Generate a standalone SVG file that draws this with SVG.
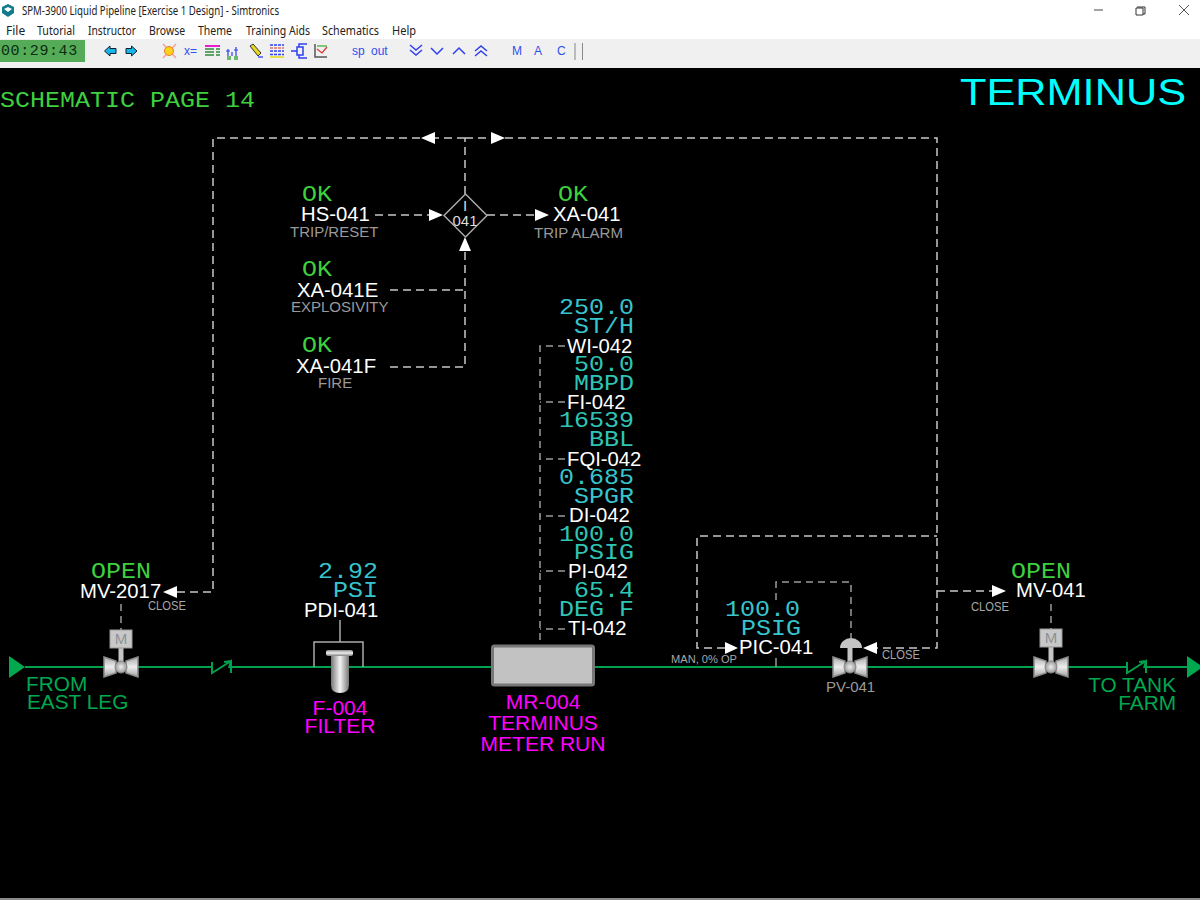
<svg xmlns="http://www.w3.org/2000/svg" xmlns:xlink="http://www.w3.org/1999/xlink" width="1200" height="906" viewBox="0 0 1200 906">
<style>
.m{font-family:"Liberation Mono","Courier New",monospace;font-size:22px}
.s{font-family:"Liberation Sans",Arial,sans-serif}
.g{fill:#3fd03f}
.c{fill:#38c4cc}
.t{fill:#2fc4b4}
.w{fill:#fff;font-size:20.300px}
.n{fill:#9a9a9a;font-size:15px}
.k{fill:#a8a8a8;font-size:12.500px}
.p{fill:#ff00ff;font-size:21px;text-anchor:middle}
.e{fill:#00a84f;font-size:20.800px}
.u{font-family:"Noto Sans","Open Sans",sans-serif;font-size:12px;fill:#222}
.b{font-family:"Liberation Sans",Arial,sans-serif;font-size:12px;fill:#2f4fee}
.d{fill:none;stroke:#c8c8c8;stroke-width:1.500;stroke-dasharray:8 5}
.dg{fill:none;stroke:#9a9a9a;stroke-width:1.500;stroke-dasharray:7 5}
.i{fill:none;stroke:#2f3fee;stroke-width:1.500}
.pipe{fill:none;stroke:#00a04c;stroke-width:2}
</style>
<defs>
<marker id="ah" markerUnits="userSpaceOnUse" markerWidth="15" markerHeight="14" refX="0" refY="7" orient="auto"><path d="M0,1 L14,7 L0,13 Z" fill="#fff"/></marker>
<linearGradient id="vg" x1="0" x2="0" y1="0" y2="1"><stop offset="0" stop-color="#8a8a8a"/><stop offset=".5" stop-color="#eee"/><stop offset="1" stop-color="#808080"/></linearGradient>
<linearGradient id="wg" x1="0" x2="0" y1="0" y2="1"><stop offset="0" stop-color="#aaa"/><stop offset=".5" stop-color="#eee"/><stop offset="1" stop-color="#a0a0a0"/></linearGradient>
<linearGradient id="hg" x1="0" x2="1" y1="0" y2="0"><stop offset="0" stop-color="#777"/><stop offset=".5" stop-color="#f4f4f4"/><stop offset="1" stop-color="#777"/></linearGradient>
<radialGradient id="bg"><stop offset="0" stop-color="#eee"/><stop offset="1" stop-color="#999"/></radialGradient>
<g id="valve">
<path d="M-17,-10 L-5,-6 L-5,6 L-17,10 Z M17,-10 L5,-6 L5,6 L17,10 Z" fill="url(#wg)" stroke="#8a8a8a" stroke-width="1.500"/>
<rect x="-2.500" y="-20" width="5" height="16" fill="#c4c4c4"/>
<circle r="6" fill="url(#bg)" stroke="#888" stroke-width="1"/>
</g>
<g id="mbox">
<rect x="-11" y="-37" width="22" height="18" fill="#c8c8c8" stroke="#999"/>
<text x="0" y="-23" text-anchor="middle" class="s" font-size="15" fill="#8c9096">M</text>
</g>
<path id="check" d="M-10,-5 V6 L9,-6 V6 M9,-6 L2,-5 M9,-6 L7,1" fill="none" stroke="#00a04c" stroke-width="2"/>
</defs>

<rect width="1200" height="906" fill="#fff"/>
<g id="window-chrome">
<rect y="39" width="1200" height="29" fill="#f0f0f0"/>
<rect y="68" width="1200" height="830" fill="#000"/>
<rect y="898" width="1200" height="2" fill="#8a8a8a"/>
<path d="M8,4 L14,7 V13 L8,17 L2,13 V7 Z" fill="#137a8c"/>
<path d="M4,9 L8,7 L12,9 L8,12 Z" fill="#fff"/>
<text x="22" y="15" class="u" textLength="257" lengthAdjust="spacingAndGlyphs">SPM-3900 Liquid Pipeline [Exercise 1 Design] - Simtronics</text>
<path d="M1094,10 H1103" stroke="#666" stroke-width="1.200"/>
<path d="M1137,7 H1145 V14 H1143 M1136,8 h7 v7 h-7 z" fill="#fff" stroke="#333" stroke-width="1"/>
<path d="M1179,5 L1189,15 M1189,5 L1179,15" stroke="#555" stroke-width="1"/>
<text x="6" y="35" class="u">File</text>
<text x="37" y="35" class="u" textLength="38" lengthAdjust="spacingAndGlyphs">Tutorial</text>
<text x="88" y="35" class="u" textLength="48" lengthAdjust="spacingAndGlyphs">Instructor</text>
<text x="149" y="35" class="u" textLength="36" lengthAdjust="spacingAndGlyphs">Browse</text>
<text x="198" y="35" class="u" textLength="34" lengthAdjust="spacingAndGlyphs">Theme</text>
<text x="246" y="35" class="u" textLength="64" lengthAdjust="spacingAndGlyphs">Training Aids</text>
<text x="322" y="35" class="u" textLength="57" lengthAdjust="spacingAndGlyphs">Schematics</text>
<text x="392" y="35" class="u" textLength="24" lengthAdjust="spacingAndGlyphs">Help</text>
</g>
<g id="toolbar">
<rect x="0" y="40" width="85" height="22" fill="#56ab58"/>
<text x="1" y="55" font-family="Liberation Mono,monospace" font-size="15" letter-spacing="0.600" fill="#0a2d10">00:29:43</text>
<path d="M104.500,51 L110,46 V48.500 H116 V53.500 H110 V56 Z" fill="#19b5e6" stroke="#123" stroke-width="1"/>
<path d="M137,51 L131.500,46 V48.500 H126 V53.500 H131.500 V56 Z" fill="#19b5e6" stroke="#123" stroke-width="1"/>
<path d="M163,44 L176,58 M176,44 L163,58" stroke="#f59a9a" stroke-width="1.300"/>
<circle cx="169" cy="51" r="4.500" fill="#ffd21a" stroke="#ee7a2a"/>
<text x="184" y="55" class="b" font-size="13">x=</text>
<path d="M205,46 H220" stroke="#e81fd0" stroke-width="2"/>
<path d="M205,49 H214 M205,52 H214 M205,55 H214 M216,49 H220 M216,52 H220 M216,55 H220" stroke="#2e8a3e" stroke-width="1.600"/>
<path d="M228,49 V56 M232,52 V56 M236,47 V56 M226,51 H230 M234,50 H238" stroke="#2f3fee" stroke-width="1.200" fill="none"/>
<rect x="227" y="56" width="4" height="4" fill="#70b870"/><rect x="234" y="56" width="4" height="4" fill="#70b870"/>
<path d="M250,46 L253,44 L261,53 L258,56 Z" fill="#e8d820" stroke="#333"/>
<path d="M258,57 H263" stroke="#2f3fee" stroke-width="1.300"/>
<path d="M270,45 H284 M270,51 H284 M270,54.500 H284" stroke="#2f3fee" stroke-width="1.400" stroke-dasharray="3 1"/>
<path d="M270,48 H284" stroke="#c33" stroke-width="1.200" stroke-dasharray="3 1"/>
<path d="M270,57 H284" stroke="#e8d820" stroke-width="1.600"/>
<path d="M291,51 H297 M297,47 H303 V55 H297 Z M299,47 V44 H307 M299,55 V58 H307" class="i"/>
<path d="M315,44 V57 H327" stroke="#555" stroke-width="1.500" fill="none"/>
<path d="M317,49 L322,53 L327,47" stroke="#d33" stroke-width="1.200" fill="none"/>
<path d="M317,46 H327" stroke="#3a3" stroke-width="1.200"/>
<text x="352" y="55" class="b">sp</text>
<text x="371" y="55" class="b">out</text>
<path d="M410,45 L416,50 L422,45 M410,50 L416,55 L422,50" class="i" stroke-width="2"/>
<path d="M431,48 L437,54 L443,48" class="i"/>
<path d="M453,54 L459,48 L465,54" class="i"/>
<path d="M475,51 L481,46 L487,51 M475,56 L481,51 L487,56" class="i" stroke-width="2"/>
<text x="512" y="55" class="b">M</text>
<text x="534" y="55" class="b">A</text>
<text x="557" y="55" class="b">C</text>
<rect x="574" y="43" width="2" height="17" fill="#bbb"/>
<rect x="582" y="43" width="1" height="17" fill="#888"/>
</g>

<g id="connectors">
<path class="pipe" d="M25,667 H212 M231,667 H491 M595,667 H1127 M1146,667 H1188"/>
<path class="d" d="M465,194 V138"/>
<path class="d" d="M465,138 H435" marker-end="url(#ah)"/>
<path class="d" d="M420,138 H213 V592 H177" marker-end="url(#ah)"/>
<path class="d" d="M465,138 H491" marker-end="url(#ah)"/>
<path class="d" d="M505,138 H937 V648 H877" marker-end="url(#ah)"/>
<path class="d" d="M937,591 H992" marker-end="url(#ah)"/>
<path class="d" d="M375,215 H429" marker-end="url(#ah)"/>
<path class="d" d="M487,215 H535" marker-end="url(#ah)"/>
<path class="d" d="M390,367 H465 V251" marker-end="url(#ah)"/>
<path class="d" d="M390,290 H465"/>
<path class="d" d="M725,648 H697 V536 H937"/>
<path d="M725,642 L738,648 L725,654 Z" fill="#fff"/>
<path class="dg" d="M776,600 V582 H851 V638"/>
<path d="M776,658 V667" stroke="#999" stroke-width="1.500"/>
<path class="dg" d="M565,346 H540 V645 M565,402 H540 M565,459 H540 M565,516 H540 M565,571 H540 M565,629 H540"/>
<path class="dg" d="M121,604 V630 M1051,604 V629"/>
<path d="M340,620 V642" stroke="#aaa" stroke-width="1.500"/>
</g>

<g id="header">
<text x="0" y="106.500" class="m g" textLength="255" lengthAdjust="spacingAndGlyphs">SCHEMATIC PAGE 14</text>
<text x="960" y="105" class="s" font-size="36" fill="#00ffff" textLength="226" lengthAdjust="spacingAndGlyphs">TERMINUS</text>
</g>

<g id="I-041">
<path d="M465.500,194 L487,215.500 L465.500,237 L444,215.500 Z" fill="#000" stroke="#aaa" stroke-width="1.500"/>
<text x="465" y="211" text-anchor="middle" class="s" font-size="15" fill="#ddd">I</text>
<text x="465" y="226" text-anchor="middle" class="s" font-size="15" fill="#ddd">041</text>
</g>
<g id="HS-041">
<text x="302" y="201" class="m g" textLength="30" lengthAdjust="spacingAndGlyphs">OK</text>
<text x="301" y="221" class="s w">HS-041</text>
<text x="290" y="237" class="s n">TRIP/RESET</text>
</g>
<g id="XA-041">
<text x="558" y="201" class="m g" textLength="30" lengthAdjust="spacingAndGlyphs">OK</text>
<text x="553" y="221" class="s w">XA-041</text>
<text x="534" y="238" class="s n">TRIP ALARM</text>
</g>
<g id="XA-041E">
<text x="302" y="276" class="m g" textLength="30" lengthAdjust="spacingAndGlyphs">OK</text>
<text x="297" y="297" class="s w">XA-041E</text>
<text x="291" y="312" class="s n">EXPLOSIVITY</text>
</g>
<g id="XA-041F">
<text x="302" y="352" class="m g" textLength="30" lengthAdjust="spacingAndGlyphs">OK</text>
<text x="296" y="373" class="s w">XA-041F</text>
<text x="318" y="388" class="s n">FIRE</text>
</g>

<g id="WI-042">
<text x="559" y="314" class="m c" textLength="75" lengthAdjust="spacingAndGlyphs">250.0</text>
<text x="574" y="333" class="m c" textLength="60" lengthAdjust="spacingAndGlyphs">ST/H</text>
<text x="567" y="353" class="s w">WI-042</text>
</g>
<g id="FI-042">
<text x="574" y="371" class="m t" textLength="60" lengthAdjust="spacingAndGlyphs">50.0</text>
<text x="574" y="390" class="m t" textLength="60" lengthAdjust="spacingAndGlyphs">MBPD</text>
<text x="567" y="409" class="s w">FI-042</text>
</g>
<g id="FQI-042">
<text x="559" y="427" class="m t" textLength="75" lengthAdjust="spacingAndGlyphs">16539</text>
<text x="589" y="446" class="m t" textLength="45" lengthAdjust="spacingAndGlyphs">BBL</text>
<text x="567" y="466" class="s w">FQI-042</text>
</g>
<g id="DI-042">
<text x="559" y="484" class="m c" textLength="75" lengthAdjust="spacingAndGlyphs">0.685</text>
<text x="574" y="503" class="m c" textLength="60" lengthAdjust="spacingAndGlyphs">SPGR</text>
<text x="569" y="522" class="s w">DI-042</text>
</g>
<g id="PI-042">
<text x="559" y="541" class="m t" textLength="75" lengthAdjust="spacingAndGlyphs">100.0</text>
<text x="574" y="559" class="m t" textLength="60" lengthAdjust="spacingAndGlyphs">PSIG</text>
<text x="568" y="578" class="s w">PI-042</text>
</g>
<g id="TI-042">
<text x="574" y="597" class="m t" textLength="60" lengthAdjust="spacingAndGlyphs">65.4</text>
<text x="559" y="616" class="m t" textLength="75" lengthAdjust="spacingAndGlyphs">DEG F</text>
<text x="568" y="635" class="s w">TI-042</text>
</g>

<g id="MR-004">
<rect x="492.500" y="646" width="101" height="39" rx="2" fill="#c2c2c2" stroke="#777" stroke-width="3"/>
<text x="543" y="709" class="s p">MR-004</text>
<text x="543" y="730" class="s p">TERMINUS</text>
<text x="543" y="751" class="s p">METER RUN</text>
</g>

<g id="F-004">
<path d="M314,667 V642 H363 V667" fill="none" stroke="#aaa" stroke-width="1.500"/>
<path d="M331,655 H349 V685 Q349,693 340,693 Q331,693 331,685 Z" fill="url(#hg)"/>
<rect x="326" y="650" width="27" height="6" rx="2" fill="url(#vg)"/>
<text x="340" y="715" class="s p">F-004</text>
<text x="340" y="733" class="s p">FILTER</text>
</g>
<g id="PDI-041">
<text x="318" y="578" class="m c" textLength="60" lengthAdjust="spacingAndGlyphs">2.92</text>
<text x="333" y="597" class="m c" textLength="45" lengthAdjust="spacingAndGlyphs">PSI</text>
<text x="304" y="617" class="s w">PDI-041</text>
</g>

<g id="MV-2017">
<text x="91" y="578" class="m g" textLength="60" lengthAdjust="spacingAndGlyphs">OPEN</text>
<text x="80" y="598" class="s w">MV-2017</text>
<text x="148" y="610" class="s k" textLength="38" lengthAdjust="spacingAndGlyphs">CLOSE</text>
<use xlink:href="#valve" href="#valve" x="121" y="667"/>
<use xlink:href="#mbox" href="#mbox" x="121" y="667"/>
</g>
<g id="MV-041">
<text x="1011" y="578" class="m g" textLength="60" lengthAdjust="spacingAndGlyphs">OPEN</text>
<text x="1016" y="597" class="s w">MV-041</text>
<text x="971" y="611" class="s k" textLength="38" lengthAdjust="spacingAndGlyphs">CLOSE</text>
<use xlink:href="#valve" href="#valve" x="1051" y="667"/>
<use xlink:href="#mbox" href="#mbox" x="1051" y="666"/>
</g>
<g id="PIC-041">
<text x="725" y="616" class="m c" textLength="75" lengthAdjust="spacingAndGlyphs">100.0</text>
<text x="741" y="635" class="m c" textLength="60" lengthAdjust="spacingAndGlyphs">PSIG</text>
<text x="739" y="654" class="s w">PIC-041</text>
<text x="671" y="663" class="s" font-size="11.500" fill="#a8a8a8" textLength="66" lengthAdjust="spacingAndGlyphs">MAN, 0% OP</text>
</g>
<g id="PV-041">
<use xlink:href="#valve" href="#valve" x="850" y="667"/>
<path d="M840,648 A11,10 0 0 1 862,648 Z" fill="#c4c4c4"/>
<text x="826" y="692" class="s n">PV-041</text>
<text x="882" y="659" class="s k" textLength="38" lengthAdjust="spacingAndGlyphs">CLOSE</text>
</g>
<g id="check-valves">
<use xlink:href="#check" href="#check" x="222" y="667"/>
<use xlink:href="#check" href="#check" x="1137" y="667"/>
</g>
<g id="from-east-leg">
<path d="M9,656 L25,667 L9,678 Z" fill="#00a84f"/>
<text x="26" y="691" class="s e">FROM</text>
<text x="27" y="709" class="s e">EAST LEG</text>
</g>
<g id="to-tank-farm">
<path d="M1187,656 L1203,667 L1187,678 Z" fill="#00a84f"/>
<text x="1176" y="692" class="s e" text-anchor="end">TO TANK</text>
<text x="1176" y="710" class="s e" text-anchor="end">FARM</text>
</g>
</svg>
